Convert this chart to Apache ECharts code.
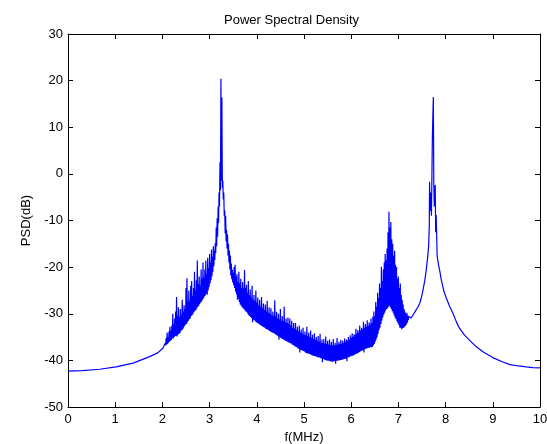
<!DOCTYPE html>
<html>
<head>
<meta charset="utf-8">
<script src="https://cdn.jsdelivr.net/npm/echarts@6/dist/echarts.min.js"></script>
<style>
html,body{margin:0;padding:0;background:#fff;}
#c{width:547px;height:444px;}
</style>
</head>
<body>
<div id="c"></div>
<script>
// ---- Data ----
const xTicks = [0,1,2,3,4,5,6,7,8,9,10];
const yTicks = [-50,-40,-30,-20,-10,0,10,20,30];

// smooth low-frequency part (MHz, dB)
const leftFreq = [0, 0.3, 0.67, 1.02, 1.38, 1.73, 1.9, 2.01];
const leftDb   = [-42.3, -42.2, -41.9, -41.4, -40.6, -39.2, -38.4, -37.4];

// noisy band 2.05 .. 7.22 MHz, sampled on the PSD's frequency grid:
// lower edge at bandStart + j*bandStep, upper edge half a step later
const bandStart = 2.05;
const bandStep = 0.02;
const bandLower = [
-37.1,-36.8,-36.6,-36.5,-36.2,-36.0,-35.8,-35.6,-35.3,-35.3,
-35.0,-34.8,-34.7,-34.9,-34.5,-34.3,-34.2,-33.8,-33.5,-33.4,
-33.0,-32.6,-32.3,-32.2,-31.8,-31.5,-31.2,-31.0,-30.5,-30.3,
-30.0,-29.6,-29.4,-29.2,-28.8,-28.5,-28.3,-27.9,-27.6,-27.4,
-27.0,-26.7,-26.3,-26.1,-25.7,-25.9,-25.0,-24.3,-23.5,-22.8,
-22.0,-21.0,-19.8,-18.5,-17.0,-15.5,-13.5,-10.5,-7.0,-3.5,
-1.5,-3.0,-5.5,-9.0,-12.8,-14.5,-16.0,-17.5,-19.0,-20.5,
-21.8,-22.6,-23.3,-23.9,-24.5,-25.2,-25.8,-27.0,-26.8,-27.5,
-28.0,-28.3,-28.6,-28.8,-29.0,-29.3,-29.5,-29.7,-30.0,-30.3,
-30.5,-30.7,-30.9,-31.8,-31.3,-31.4,-31.6,-31.8,-32.0,-32.1,
-32.2,-32.4,-32.5,-32.6,-32.8,-32.9,-33.0,-33.2,-33.3,-33.4,
-33.5,-33.7,-33.8,-33.9,-34.0,-34.1,-34.2,-34.4,-34.5,-34.6,
-34.8,-35.6,-35.0,-35.2,-35.3,-35.4,-35.5,-35.7,-35.8,-35.9,
-36.0,-36.1,-36.2,-36.3,-36.4,-36.6,-36.7,-36.8,-37.0,-37.1,
-37.2,-37.4,-37.5,-38.3,-37.7,-37.8,-37.9,-38.0,-38.1,-38.3,
-38.4,-38.5,-38.5,-38.6,-38.7,-38.8,-38.9,-39.0,-39.0,-39.1,
-39.1,-39.2,-39.3,-39.4,-39.4,-39.5,-39.6,-40.4,-39.7,-39.8,
-39.9,-40.0,-40.0,-40.1,-40.1,-40.2,-40.2,-40.3,-40.3,-40.2,
-40.2,-40.7,-40.1,-40.1,-40.0,-40.0,-39.9,-39.9,-39.8,-39.8,
-39.7,-39.7,-39.6,-40.2,-39.4,-39.3,-39.2,-39.1,-39.0,-39.0,
-38.9,-38.8,-38.7,-38.6,-38.5,-38.4,-38.2,-38.1,-38.0,-37.9,
-37.8,-38.3,-37.6,-37.5,-37.4,-37.4,-37.3,-37.3,-37.2,-37.2,
-37.1,-36.8,-36.5,-36.0,-35.5,-35.0,-34.3,-33.5,-33.0,-32.2,
-31.5,-30.8,-30.2,-29.8,-29.3,-29.0,-28.8,-28.5,-28.3,-28.6,
-29.0,-29.4,-29.8,-30.3,-30.8,-31.2,-31.6,-32.0,-32.4,-33.0,
-33.0,-33.3,-33.1,-33.0,-32.8,-32.6,-32.3,-31.9,-31.4
];
const bandUpper = [
-36.3,-35.2,-34.0,-35.0,-33.8,-32.8,-33.6,-32.5,-30.0,-32.2,
-31.0,-29.5,-26.4,-30.5,-28.6,-30.8,-29.0,-30.2,-27.0,-29.5,
-28.2,-29.0,-24.5,-22.4,-27.5,-25.0,-27.2,-24.0,-23.0,-26.2,
-24.5,-21.0,-25.0,-22.8,-18.6,-23.6,-22.0,-24.0,-20.5,-22.5,
-19.0,-22.2,-20.5,-18.6,-21.5,-18.0,-20.2,-17.2,-19.0,-16.2,
-17.8,-15.5,-16.5,-14.9,-11.5,-9.5,-7.0,-4.0,2.5,20.4,
16.4,-1.5,-4.0,-7.8,-9.0,-12.0,-13.0,-15.0,-16.5,-17.5,
-19.2,-20.5,-21.2,-20.0,-19.5,-22.0,-21.5,-23.2,-21.0,-23.5,
-22.5,-24.5,-23.2,-24.6,-20.6,-24.5,-23.8,-25.5,-23.0,-26.0,
-24.8,-26.5,-24.0,-27.0,-26.0,-27.2,-25.0,-27.6,-26.5,-28.2,
-27.0,-28.5,-26.4,-28.8,-27.8,-29.2,-28.0,-29.5,-27.2,-29.8,
-28.6,-30.0,-28.8,-30.3,-29.5,-30.5,-27.1,-30.6,-29.6,-31.0,
-30.0,-31.2,-29.0,-31.5,-30.5,-31.6,-28.5,-31.8,-31.0,-32.0,
-30.8,-32.2,-31.0,-32.6,-31.5,-33.0,-32.0,-33.2,-32.0,-33.5,
-32.8,-33.8,-32.5,-34.0,-33.4,-34.3,-33.0,-34.5,-33.8,-34.6,
-32.8,-34.8,-34.0,-35.0,-33.6,-35.2,-34.5,-35.4,-34.2,-35.6,
-35.0,-35.8,-34.8,-36.0,-34.3,-36.2,-35.5,-36.3,-35.4,-36.4,
-34.9,-36.5,-35.8,-36.6,-35.5,-36.7,-36.0,-36.8,-35.4,-36.8,
-36.2,-36.7,-35.2,-36.6,-36.0,-36.5,-35.6,-36.4,-35.8,-36.2,
-35.3,-36.0,-35.5,-35.8,-35.0,-35.6,-34.6,-35.2,-34.2,-35.0,
-34.4,-34.6,-33.2,-34.3,-33.5,-34.0,-32.5,-33.6,-33.0,-33.3,
-31.7,-33.0,-32.2,-32.8,-31.4,-32.6,-31.8,-32.3,-31.0,-32.0,
-30.6,-29.5,-30.5,-27.5,-28.5,-25.5,-26.6,-23.5,-24.5,-19.9,
-23.0,-20.5,-19.0,-17.2,-18.5,-16.0,-12.5,-8.1,-11.5,-10.3,
-14.0,-15.0,-17.5,-16.5,-19.5,-20.0,-22.5,-22.0,-24.5,-23.5,
-26.0,-27.0,-28.0,-29.0,-29.5,-30.0,-29.8,-30.4,-30.6
];

// second resonance and high-frequency tail (MHz, dB)
const rightFreq = [
7.27,7.30,7.35,7.41,7.45,7.49,7.52,7.56,7.59,7.62,7.64,7.655,
7.66,7.67,7.69,7.70,7.72,7.74,7.75,7.76,7.78,7.79,7.80,7.81,
7.82,7.85,7.88,7.91,7.96,8.02,8.09,8.16,8.23,8.30,8.40,8.50,
8.65,8.80,9.00,9.20,9.36,9.55,9.71,9.85,10.0
];
const rightDb = [
-30.9,-30.5,-29.6,-28.6,-27.8,-26.4,-25.0,-22.8,-20.6,-17.8,-15.6,-11.0,
-1.7,-8.0,-4.0,-9.0,8.0,16.5,-2.0,-7.0,-2.4,-12.5,-8.8,-12.8,
-17.5,-19.5,-21.0,-22.8,-25.0,-26.8,-28.5,-30.0,-31.8,-33.2,-34.6,-35.6,
-37.1,-38.2,-39.4,-40.3,-40.9,-41.2,-41.4,-41.55,-41.6
];

// ---- assemble series data ----
const psd = [];
leftFreq.forEach((f,i)=>psd.push([f,leftDb[i]]));
bandLower.forEach((v,j)=>{
  const f = bandStart + j*bandStep;
  psd.push([+f.toFixed(3), v]);
  if (j < bandUpper.length) psd.push([+(f+bandStep/2).toFixed(3), bandUpper[j]]);
});
rightFreq.forEach((f,i)=>psd.push([f,rightDb[i]]));

const font = '"Liberation Sans", Arial, sans-serif';
const chart = echarts.init(document.getElementById('c'), null, {renderer:'canvas'});
const axisCommon = {
  axisLine:{show:true,onZero:false,lineStyle:{color:'#000',width:1}},
  axisTick:{show:true,inside:true,length:5,lineStyle:{color:'#000'}},
  splitLine:{show:false}
};
chart.setOption({
  animation:false,
  backgroundColor:'#fff',
  title:{
    text:'Power Spectral Density',
    left:219, top:9,
    textStyle:{fontFamily:font,fontSize:13,fontWeight:'normal',color:'#000'}
  },
  grid:{left:68,right:7,top:34,bottom:37,containLabel:false,outerBoundsMode:'none'},
  xAxis:[
    Object.assign({
      type:'value',min:xTicks[0],max:xTicks[xTicks.length-1],interval:1,
      position:'bottom',
      name:'f(MHz)',nameLocation:'middle',nameGap:23,
      nameTextStyle:{fontFamily:font,fontSize:13,color:'#000'},
      axisLabel:{fontFamily:font,fontSize:13,color:'#000',margin:6}
    },axisCommon),
    Object.assign({
      type:'value',min:0,max:10,interval:1,position:'top',
      axisLabel:{show:false}
    },axisCommon)
  ],
  yAxis:[
    Object.assign({
      type:'value',min:yTicks[0],max:yTicks[yTicks.length-1],interval:10,
      position:'left',
      name:'PSD(dB)',nameLocation:'middle',nameGap:26,nameRotate:90,
      nameTextStyle:{fontFamily:font,fontSize:13,color:'#000'},
      axisLabel:{fontFamily:font,fontSize:13,color:'#000',margin:5}
    },axisCommon),
    Object.assign({
      type:'value',min:-50,max:30,interval:10,position:'right',
      axisLabel:{show:false}
    },axisCommon)
  ],
  series:[{
    type:'line',
    data:psd,
    xAxisIndex:0,yAxisIndex:0,
    showSymbol:false,symbol:'none',
    sampling:null,
    lineStyle:{color:'#0000ff',width:1.2},
    itemStyle:{color:'#0000ff'}
  }]
});
</script>
</body>
</html>
